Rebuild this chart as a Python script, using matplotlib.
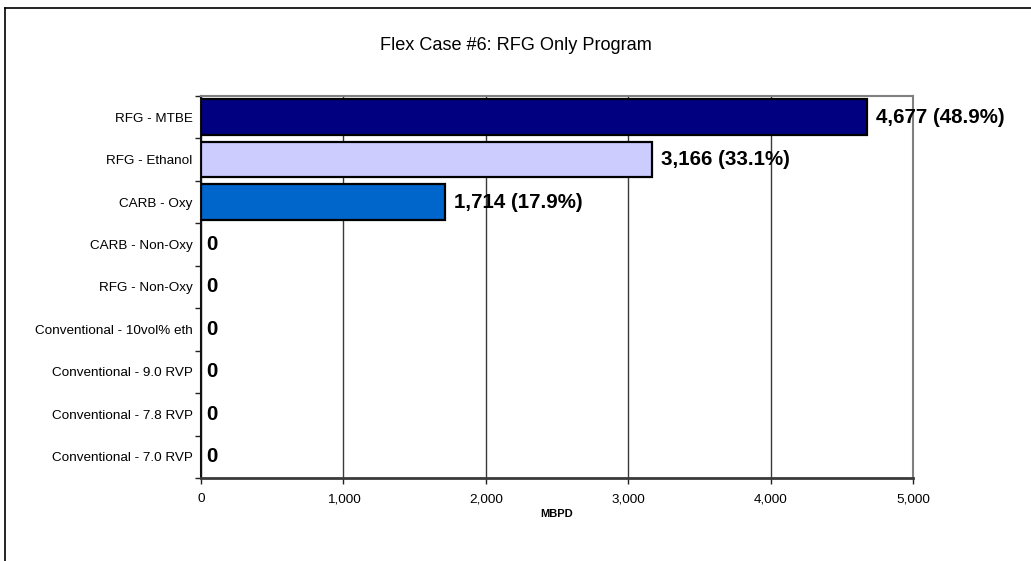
import matplotlib
matplotlib.use("Agg")
import matplotlib.pyplot as plt
from matplotlib.lines import Line2D
from matplotlib.ticker import FuncFormatter, FixedLocator

plt.rcParams['font.family'] = ['Liberation Sans', 'DejaVu Sans']

categories = [
    "RFG - MTBE",
    "RFG - Ethanol",
    "CARB - Oxy",
    "CARB - Non-Oxy",
    "RFG - Non-Oxy",
    "Conventional - 10vol% eth",
    "Conventional - 9.0 RVP",
    "Conventional - 7.8 RVP",
    "Conventional - 7.0 RVP",
]
values = [4677, 3166, 1714, 0, 0, 0, 0, 0, 0]
bar_colors = ["#000080", "#CCCCFF", "#0066CC", "#0066CC", "#0066CC",
              "#0066CC", "#0066CC", "#0066CC", "#0066CC"]
x_ticks = [0, 1000, 2000, 3000, 4000, 5000]
title = "Flex Case #6: RFG Only Program"
x_label = "MBPD"

W, H = 1031, 561
fig = plt.figure(figsize=(W / 100, H / 100), dpi=100)
ax = fig.add_axes([201 / W, (H - 478) / H, 712 / W, 382 / H])

total = sum(values)
positions = list(range(len(categories)))
for pos, val, col in zip(positions, values, bar_colors):
    if val > 0:
        ax.barh(pos, val, height=0.84, color=col, edgecolor="black",
                linewidth=1.6, zorder=3)
        txt = f"{val:,} ({val / total * 100:.1f}%)"
        off = 6.5
    else:
        txt = "0"
        off = 4
    ax.annotate(txt, xy=(val, pos), xytext=(off, 0), textcoords="offset points",
                ha="left", va="center", fontsize=14.8, fontweight="bold",
                zorder=4)

ax.set_xlim(0, 5000)
ax.set_ylim(len(categories) - 0.5, -0.5)

ax.xaxis.set_major_locator(FixedLocator(x_ticks))
ax.xaxis.set_major_formatter(FuncFormatter(lambda v, p: f"{int(v):,}"))
ax.tick_params(axis="x", length=4, width=1, direction="out", pad=7,
               labelsize=9.7, color="#222222")
ax.set_yticks(positions)
ax.set_yticklabels(categories, fontsize=9.7)
ax.tick_params(axis="y", which="major", length=0, pad=6)
ax.set_yticks([p - 0.5 for p in positions] + [len(categories) - 0.5], minor=True)
ax.tick_params(axis="y", which="minor", length=4, width=1, direction="out",
               color="#222222")

ax.xaxis.grid(True, color="#3a3a3a", linewidth=1.0, zorder=1)
ax.set_axisbelow(True)

for side in ("top", "right"):
    ax.spines[side].set_color("#808080")
    ax.spines[side].set_linewidth(1.5)
ax.spines["left"].set_color("#111111")
ax.spines["left"].set_linewidth(1.5)
ax.spines["bottom"].set_color("#3a3a3a")
ax.spines["bottom"].set_linewidth(2)

ax.set_xlabel(x_label, fontsize=8, fontweight="bold", labelpad=3)
fig.text(0.5, (H - 45) / H, title, ha="center", va="center", fontsize=13.1)

# outer chart frame (left and top edges)
fig.add_artist(Line2D([5 / W, 5 / W], [0, (H - 8) / H], color="black",
                      linewidth=1.2, transform=fig.transFigure))
fig.add_artist(Line2D([5 / W, 1], [(H - 8) / H, (H - 8) / H], color="black",
                      linewidth=1.2, transform=fig.transFigure))

fig.savefig("out.png", dpi=100)
